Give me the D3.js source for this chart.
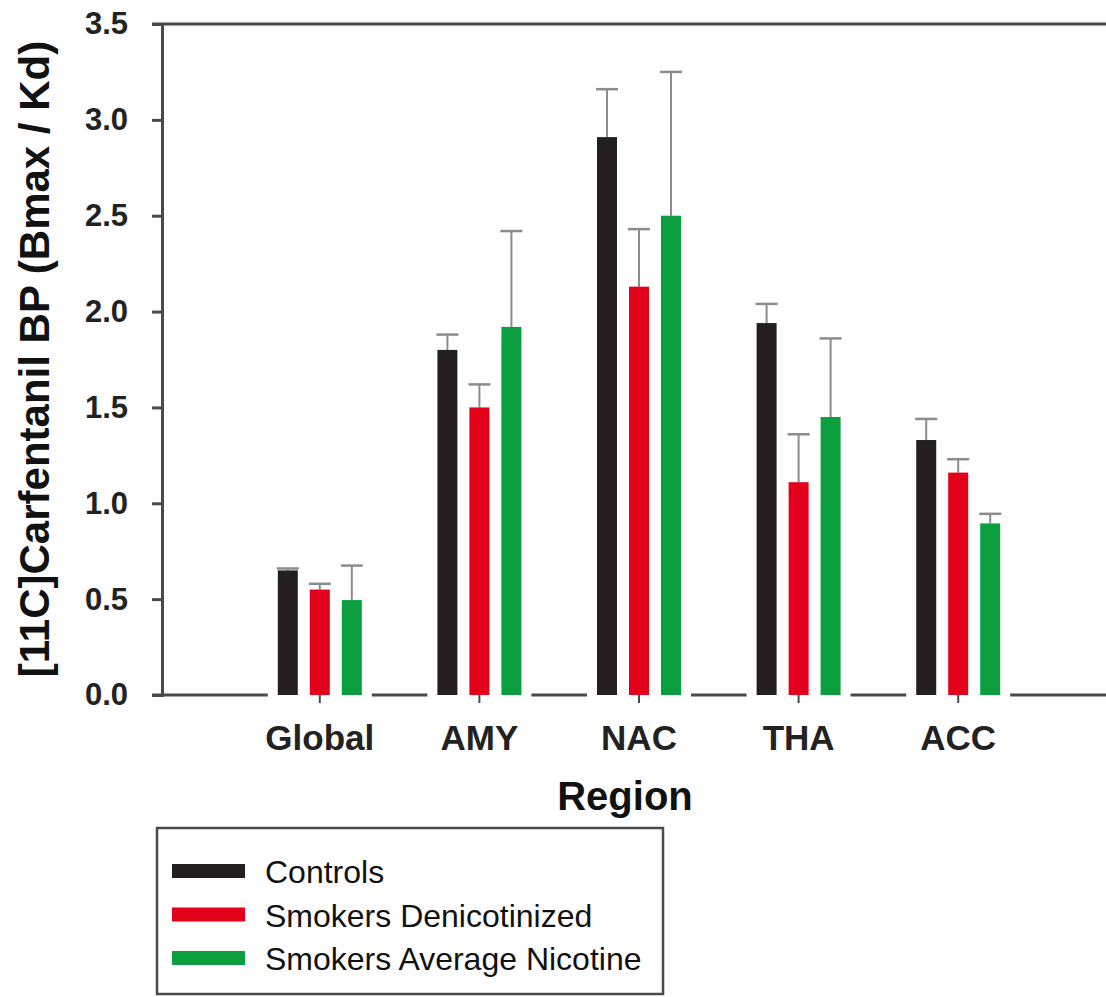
<!DOCTYPE html>
<html>
<head>
<meta charset="utf-8">
<script src="https://cdn.jsdelivr.net/npm/d3@7"></script>
<style>
  body { margin: 0; background: #fff; }
  svg text { font-family: "Liberation Sans", Arial, sans-serif; fill: #111; }
</style>
</head>
<body>
<svg id="chart" width="1106" height="997"></svg>
<script>
// data
const regions = ['Global', 'AMY', 'NAC', 'THA', 'ACC'];
const groups = ['Controls', 'Smokers Denicotinized', 'Smokers Average Nicotine'];
const colors = ['#231f20', '#e2001a', '#0a9e3f'];

const controls = [0.65, 1.80, 2.91, 1.94, 1.33];
const denicotinized = [0.55, 1.50, 2.13, 1.11, 1.16];
const avgNicotine = [0.495, 1.92, 2.50, 1.45, 0.895];

const controlsErr = [0.01, 0.08, 0.25, 0.10, 0.11];
const denicotinizedErr = [0.03, 0.12, 0.30, 0.25, 0.07];
const avgNicotineErr = [0.18, 0.50, 0.75, 0.41, 0.05];

const yTicks = [0, 0.5, 1.0, 1.5, 2.0, 2.5, 3.0, 3.5];

const series = [
  { name: groups[0], values: controls, errs: controlsErr },
  { name: groups[1], values: denicotinized, errs: denicotinizedErr },
  { name: groups[2], values: avgNicotine, errs: avgNicotineErr },
];

const svg = d3.select('#chart');
const axisColor = '#4a4a4a';
const plotLeft = 162, plotTop = 24, plotBottom = 695, plotRight = 1106;

const y = d3.scaleLinear().domain([0, 3.5]).range([plotBottom, plotTop]);
const x = d3.scaleBand().domain(regions).range([240, 1038]);
const xInner = d3.scaleBand().domain(groups)
  .range([-48, 48]).paddingInner(0.375).paddingOuter(0.1875);

const center = r => x(r) + x.bandwidth() / 2;

// top frame line
svg.append('line')
  .attr('x1', 152).attr('x2', plotRight)
  .attr('y1', plotTop).attr('y2', plotTop)
  .attr('stroke', axisColor).attr('stroke-width', 3);

// y axis
const yAxis = svg.append('g')
  .attr('transform', `translate(${plotLeft},0)`)
  .call(d3.axisLeft(y).tickValues(yTicks).tickFormat(d3.format('.1f'))
    .tickSize(10).tickPadding(24));
yAxis.select('.domain').attr('stroke', axisColor).attr('stroke-width', 3);
yAxis.selectAll('.tick line').attr('stroke', axisColor).attr('stroke-width', 3);
yAxis.selectAll('.tick text')
  .attr('font-size', 31).attr('font-weight', 'bold').style('fill', '#222');

// baseline, broken where the bar groups sit
const gap = 10;
const baseSegs = [];
let segStart = 152;
regions.forEach(r => {
  const gl = center(r) + xInner(groups[0]) - gap;
  const gr = center(r) + xInner(groups[2]) + xInner.bandwidth() + gap;
  baseSegs.push([segStart, gl]);
  segStart = gr;
});
baseSegs.push([segStart, plotRight]);
svg.selectAll('line.base').data(baseSegs).join('line')
  .attr('class', 'base')
  .attr('x1', d => d[0]).attr('x2', d => d[1])
  .attr('y1', plotBottom).attr('y2', plotBottom)
  .attr('stroke', axisColor).attr('stroke-width', 3);

// x axis ticks + labels
const xAxis = svg.append('g')
  .attr('transform', `translate(0,${plotBottom})`)
  .call(d3.axisBottom(x).tickSize(8).tickPadding(22));
xAxis.select('.domain').remove();
xAxis.selectAll('.tick line').attr('stroke', axisColor).attr('stroke-width', 2);
xAxis.selectAll('.tick text')
  .attr('font-size', 35).attr('font-weight', 'bold').style('fill', '#222');

// bars
const bars = svg.append('g');
series.forEach((s, si) => {
  const g = bars.append('g');
  const data = regions.map((r, i) => ({ r, v: s.values[i], e: s.errs[i] }));
  const mid = d => center(d.r) + xInner(s.name) + xInner.bandwidth() / 2;
  // error bars (upper only)
  g.selectAll('line.err').data(data).join('line')
    .attr('class', 'err')
    .attr('x1', mid).attr('x2', mid)
    .attr('y1', d => y(d.v)).attr('y2', d => y(d.v + d.e))
    .attr('stroke', '#8c8c8c').attr('stroke-width', 2);
  g.selectAll('line.cap').data(data).join('line')
    .attr('class', 'cap')
    .attr('x1', d => mid(d) - 11).attr('x2', d => mid(d) + 11)
    .attr('y1', d => y(d.v + d.e)).attr('y2', d => y(d.v + d.e))
    .attr('stroke', '#8c8c8c').attr('stroke-width', 2.5);
  g.selectAll('rect').data(data).join('rect')
    .attr('x', d => center(d.r) + xInner(s.name))
    .attr('width', xInner.bandwidth())
    .attr('y', d => y(d.v))
    .attr('height', d => y(0) - y(d.v))
    .attr('fill', colors[si]);
});

// axis titles
svg.append('text')
  .attr('x', center('NAC') - 14).attr('y', 810)
  .attr('text-anchor', 'middle')
  .attr('font-size', 40).attr('font-weight', 'bold')
  .text('Region');

svg.append('text')
  .attr('transform', `translate(49,359) rotate(-90)`)
  .attr('text-anchor', 'middle')
  .attr('font-size', 42).attr('font-weight', 'bold')
  .text('[11C]Carfentanil BP (Bmax / Kd)');

// legend
const legend = svg.append('g');
legend.append('rect')
  .attr('x', 157).attr('y', 828).attr('width', 506).attr('height', 166)
  .attr('fill', 'none').attr('stroke', axisColor).attr('stroke-width', 2.5);
const rowY = d3.scalePoint().domain(groups).range([871, 958]);
groups.forEach((gname, i) => {
  legend.append('rect')
    .attr('x', 172).attr('y', rowY(gname) - 7)
    .attr('width', 73).attr('height', 14)
    .attr('fill', colors[i]);
  legend.append('text')
    .attr('x', 265).attr('y', rowY(gname) + 12)
    .attr('font-size', 32)
    .text(gname);
});
</script>
</body>
</html>
